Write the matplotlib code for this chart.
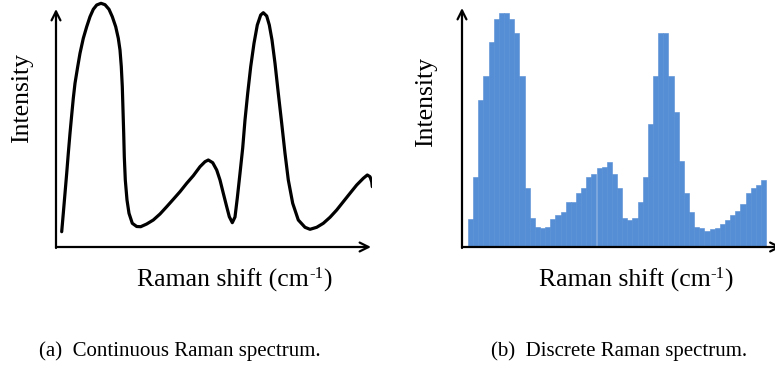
import matplotlib
matplotlib.use("Agg")
import matplotlib.pyplot as plt

plt.rcParams['font.family'] = ['Liberation Serif', 'DejaVu Serif']

# continuous spectrum (arbitrary units)
shift_a = [5.7, 7.3, 9, 10.7, 12.3, 14, 15.7, 17.3, 19, 21.7, 24, 27.3, 30.7, 34, 37.3,
           40.7, 45, 49, 53, 56.3, 59.7, 62.3, 64, 65.3, 66.3, 67, 67.7, 68.3, 69.3, 71,
           73, 76.3, 80.7, 84.7, 90.7, 97.3, 104, 110.7, 117.3, 124, 130.7, 137.3, 144,
           149, 152.3, 156.7, 160.7, 164, 167.3, 170.7, 173.3, 176.3, 179, 181.3, 184,
           186.7, 189, 191.7, 194.7, 198, 201.3, 204.7, 207.3, 210.7, 213.3, 216, 219,
           222.3, 225.7, 229, 232.3, 236.7, 242.3, 249, 254, 260.7, 267.3, 274, 280.7,
           287.3, 294, 300.7, 307.3, 311.3, 314, 315.7, 316.3]
intensity_a = [16.3, 34.7, 54.7, 74.7, 94.7, 114.7, 133, 149.7, 164.7, 181.3, 194.7, 209.7,
               221.3, 231.3, 238.7, 243, 244.7, 243.3, 238.7, 231.3, 221.3, 209.7, 198,
               181.3, 161.3, 138, 114.7, 91.3, 68, 48, 34.7, 24.7, 21.5, 21.3, 24, 28, 34,
               41.3, 48.7, 56.3, 64.7, 72.3, 81.3, 86.3, 88, 85.3, 78, 68, 54.7, 41.3,
               31.3, 25.3, 31, 50, 74.7, 100, 128, 154.7, 181.3, 204.7, 223, 233, 235.3,
               232, 223, 208, 184.7, 154.7, 124.7, 94.7, 68, 44.7, 28, 20.7, 18.7, 20.7,
               24.7, 30.7, 38, 46.3, 54.7, 63, 69.7, 73, 71.3, 66.3, 61.3]

# discrete spectrum, one value per bin
intensity_b = [29, 71, 148, 172, 206, 229, 235, 235, 229, 215,
               172, 60, 30, 21, 20, 21, 29, 33, 36, 46,
               46, 55, 60, 71, 74, 80, 81, 86, 74, 60,
               30, 28, 30, 46, 71, 124, 172, 215, 215, 172,
               136, 87, 55, 36, 21, 20, 17, 19, 20, 24,
               28, 33, 37, 44, 55, 60, 63, 68]
bins_b = list(range(len(intensity_b)))

W, H = 775, 365
fig = plt.figure(figsize=(W / 100, H / 100), dpi=100)

arrow = dict(arrowstyle='->', color='black', lw=1.6, mutation_scale=16,
             shrinkA=0, shrinkB=0)

# (a) continuous
ax1 = fig.add_axes([56 / W, 1 - 248 / H, 316 / W, 248 / H])
ax1.plot(shift_a, intensity_a, color='black', lw=2.3, solid_capstyle='round',
         solid_joinstyle='round')
ax1.set_xlim(0, 316)
ax1.set_ylim(0, 248)
ax1.axis('off')
ax1.annotate('', xy=(0, 239), xytext=(0, 0), arrowprops=arrow, annotation_clip=False)
ax1.annotate('', xy=(315, 1), xytext=(0, 1), arrowprops=arrow, annotation_clip=False)

# (b) discrete
ax2 = fig.add_axes([462 / W, 1 - 248 / H, 313 / W, 248 / H])
ax2.bar(bins_b, intensity_b, width=1.0, align='edge', color='#558ed5',
        edgecolor='#558ed5', lw=0.4)
ax2.set_xlim(-6 / 5.14, 307 / 5.14)
ax2.set_ylim(0, 248)
ax2.axis('off')
ax2.annotate('', xy=(-6 / 5.14, 240), xytext=(-6 / 5.14, 0), arrowprops=arrow,
             annotation_clip=False)
ax2.annotate('', xy=(61, 1), xytext=(-6 / 5.14, 1), arrowprops=arrow,
             annotation_clip=False)

fig.text(22 / W, 1 - 98 / H, 'Intensity', rotation=90, fontsize=18.5,
         ha='center', va='center')
fig.text(426 / W, 1 - 102 / H, 'Intensity', rotation=90, fontsize=18.5,
         ha='center', va='center')


def raman_label(xc, baseline):
    # "Raman shift (cm" + raised "-1" + ")" laid out piece by piece
    r = fig.canvas.get_renderer()
    parts = [('Raman shift (cm', 18.5, 0), ('-1', 12, 9), (')', 18.5, 0)]
    texts, widths = [], []
    for s, size, rise in parts:
        t = fig.text(0, 0, s, fontsize=size, ha='left', va='baseline')
        texts.append((t, rise))
        widths.append(t.get_window_extent(renderer=r).width)
    x = xc - sum(widths) / 2
    for (t, rise), w in zip(texts, widths):
        t.set_position((x / W, 1 - (baseline - rise) / H))
        x += w


raman_label(234.5, 287)
raman_label(636, 287)

fig.text(180 / W, 1 - 351 / H, '(a)  Continuous Raman spectrum.', fontsize=15,
         ha='center', va='center')
fig.text(619 / W, 1 - 351 / H, '(b)  Discrete Raman spectrum.', fontsize=15,
         ha='center', va='center')

fig.savefig('out.png', dpi=100)
